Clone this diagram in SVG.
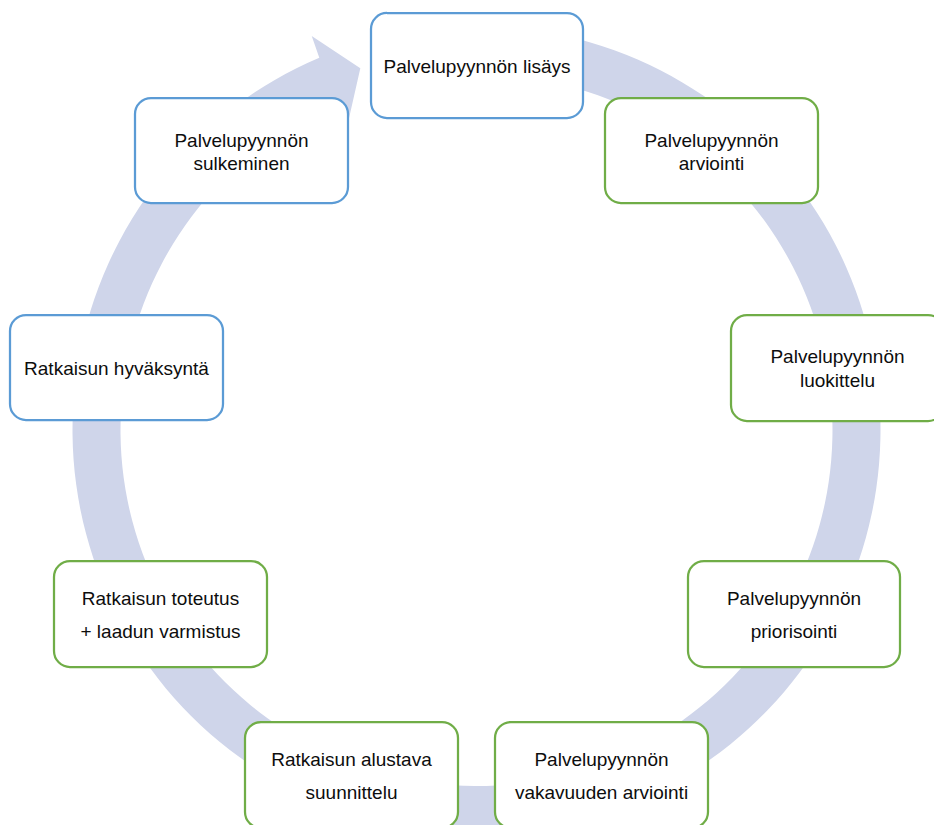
<svg xmlns="http://www.w3.org/2000/svg" width="934" height="825" viewBox="0 0 934 825">
<style>
.node rect{fill:#ffffff;stroke-width:2.25}
.blue rect{stroke:#5b9bd5}
.green rect{stroke:#70ad47}
text{font-family:"Liberation Sans",Arial,sans-serif;font-size:19px;fill:#0d0d0d;text-anchor:middle}
.band{fill:#cfd5ea;stroke:none}
</style>
<rect width="934" height="825" fill="#ffffff"/>
<g id="connectors">
<path class="band" d="M 441.29 27.54 A 404 404 0 1 1 319.30 57.84 L 311.72 36.08 L 360.33 68.19 L 347.99 122.79 L 337.97 102.06 A 356 356 0 1 0 445.47 75.36 Z"/>
</g>
<g id="n1" class="node blue"><rect x="371" y="13" width="212" height="105" rx="16"/><text x="477" y="73">Palvelupyynnön lisäys</text></g>
<g id="n2" class="node green"><rect x="605" y="98" width="213" height="105" rx="16"/><text x="711.5" y="147">Palvelupyynnön</text><text x="711.5" y="170">arviointi</text></g>
<g id="n3" class="node green"><rect x="731" y="315" width="213" height="106" rx="16"/><text x="837.5" y="363">Palvelupyynnön</text><text x="837.5" y="387">luokittelu</text></g>
<g id="n4" class="node green"><rect x="688" y="561" width="212" height="106" rx="16"/><text x="794" y="605">Palvelupyynnön</text><text x="794" y="638">priorisointi</text></g>
<g id="n5" class="node green"><rect x="495" y="722" width="213" height="106" rx="16"/><text x="601.5" y="766">Palvelupyynnön</text><text x="601.5" y="799">vakavuuden arviointi</text></g>
<g id="n6" class="node green"><rect x="245" y="722" width="213" height="106" rx="16"/><text x="351.5" y="766">Ratkaisun alustava</text><text x="351.5" y="799">suunnittelu</text></g>
<g id="n7" class="node green"><rect x="54" y="561" width="213" height="106" rx="16"/><text x="160.5" y="605">Ratkaisun toteutus</text><text x="160.5" y="638">+ laadun varmistus</text></g>
<g id="n8" class="node blue"><rect x="10" y="315" width="213" height="105" rx="16"/><text x="116.5" y="375">Ratkaisun hyväksyntä</text></g>
<g id="n9" class="node blue"><rect x="135" y="98" width="213" height="105" rx="16"/><text x="241.5" y="147">Palvelupyynnön</text><text x="241.5" y="170">sulkeminen</text></g>
</svg>
